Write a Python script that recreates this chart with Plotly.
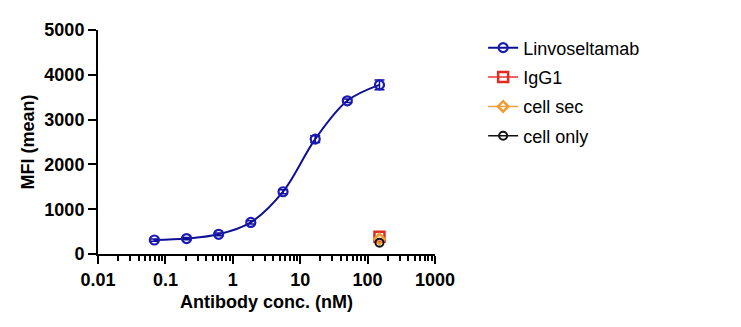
import plotly.graph_objects as go

# Antibody binding titration (3-fold dilution series)
conc_nM = [0.0686, 0.206, 0.617, 1.85, 5.56, 16.7, 50.0, 150.0]
mfi_linvo = [312, 345, 440, 705, 1390, 2565, 3420, 3775]
mfi_linvo_err = [25, 25, 30, 35, 45, 75, 40, 110]

ctrl_conc = [150.0]
mfi_igg1 = [385]
mfi_cell_sec = [335]
mfi_cell_only = [250]

FONT = "Arial, Liberation Sans, sans-serif"
NAVY = "#0f0f96"
INK = "#000000"

fig = go.Figure()

fig.add_trace(go.Scatter(
    x=conc_nM, y=mfi_linvo, name="Linvoseltamab", legendgroup="a",
    mode="lines+markers",
    line=dict(color=NAVY, width=2, shape="spline", smoothing=1.0),
    marker=dict(symbol="circle-open", size=9, color="#1a1ab4", line=dict(width=2.2)),
    error_y=dict(type="data", array=mfi_linvo_err, visible=True,
                 color=NAVY, thickness=1.5, width=5),
))
fig.add_trace(go.Scatter(
    x=ctrl_conc, y=mfi_igg1, name="IgG1", legendgroup="b", mode="lines+markers",
    line=dict(color="#e8332a", width=1.5),
    marker=dict(symbol="square-open", size=10, color="#e02a22", line=dict(width=2.5)),
))
fig.add_trace(go.Scatter(
    x=ctrl_conc, y=mfi_cell_sec, name="cell sec", legendgroup="c", mode="lines+markers",
    line=dict(color="#f0a040", width=1.5),
    marker=dict(symbol="diamond-open", size=8, color="#f39a30", line=dict(width=2.5)),
))
fig.add_trace(go.Scatter(
    x=ctrl_conc, y=mfi_cell_only, name="cell only", legendgroup="d", mode="lines+markers",
    line=dict(color="#111111", width=1.5),
    marker=dict(symbol="circle-open", size=8, color="#111111", line=dict(width=2)),
))

fig.update_layout(
    width=741, height=327,
    margin=dict(l=98, r=306, t=30, b=73),
    paper_bgcolor="white", plot_bgcolor="white",
    font=dict(family=FONT, color="black"),
    showlegend=True,
    legend=dict(
        xref="container", yref="container", x=0.652, y=0.91,
        xanchor="left", yanchor="top",
        font=dict(family=FONT, size=18, color="black"),
        itemwidth=30, tracegroupgap=3, bgcolor="rgba(0,0,0,0)",
    ),
)

fig.update_xaxes(
    type="log", range=[-2, 3],
    dtick=1,
    ticks="outside", ticklen=8, tickwidth=2, tickcolor=INK,
    minor=dict(ticks="outside", ticklen=5, tickwidth=2, tickcolor=INK),
    showline=True, linewidth=2, linecolor=INK,
    showgrid=False, zeroline=False,
    tickfont=dict(family=FONT, size=18, color="black", weight="bold"),
    title=dict(text="Antibody conc. (nM)", standoff=7,
               font=dict(family=FONT, size=18, color="black", weight="bold")),
)
fig.update_yaxes(
    range=[0, 5000], tickvals=[0, 1000, 2000, 3000, 4000, 5000],
    ticks="outside", ticklen=8, tickwidth=2, tickcolor=INK,
    showline=True, linewidth=2, linecolor=INK,
    showgrid=False, zeroline=False,
    tickfont=dict(family=FONT, size=18, color="black", weight="bold"),
    title=dict(text="MFI (mean)", standoff=5,
               font=dict(family=FONT, size=18, color="black", weight="bold")),
)

fig.write_html("out.html")
